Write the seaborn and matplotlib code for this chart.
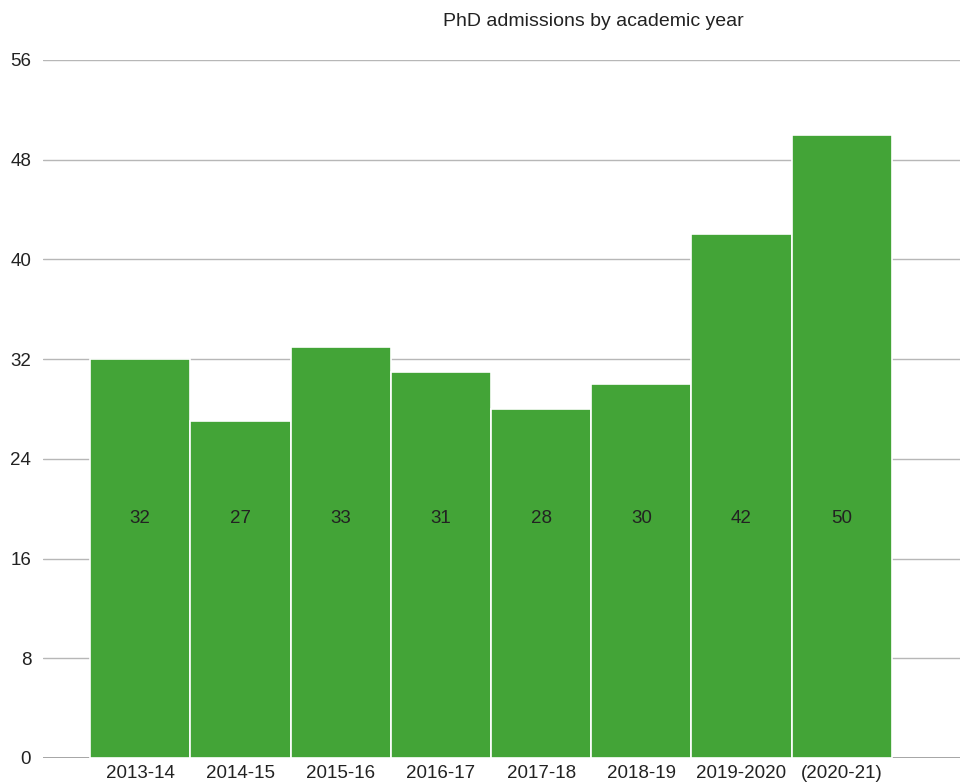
import matplotlib
matplotlib.use("Agg")
import matplotlib.pyplot as plt
import seaborn as sns
import pandas as pd

years = ["2013-14", "2014-15", "2015-16", "2016-17", "2017-18", "2018-19", "2019-2020", "(2020-21)"]
admissions = [32, 27, 33, 31, 28, 30, 42, 50]
y_ticks = [0, 8, 16, 24, 32, 40, 48, 56]

df = pd.DataFrame({"year": years, "admissions": admissions})

sns.set_style("white")
plt.rcParams["font.family"] = ["Liberation Sans", "DejaVu Sans"]

fig = plt.figure(figsize=(9.6, 7.82), dpi=100)
ax = fig.add_axes([0.0448, 0.0307, 0.9552, 0.8926])

sns.barplot(data=df, x="year", y="admissions", color="#43a437", saturation=1,
            width=1.0, edgecolor="white", linewidth=1.2, ax=ax, zorder=2)

# rótulos dentro das barras
for i, v in enumerate(admissions):
    ax.text(i, 19.2, str(v), ha="center", va="center", fontsize=13.5, color="#222222", zorder=3)

ax.set_ylim(0, 56)
ax.set_xlim(-0.97, 8.18)
ax.set_yticks(y_ticks)
ax.yaxis.grid(True, color="#b7b7b7", linewidth=1, zorder=0)
ax.set_axisbelow(True)
for s in ax.spines.values():
    s.set_visible(False)
ax.axhline(0, color="#999999", linewidth=1.2, zorder=1)
ax.tick_params(axis="both", length=0, labelsize=13.5, colors="#222222")
ax.tick_params(axis="y", pad=8.5)
ax.tick_params(axis="x", pad=5)
ax.set_xlabel("")
ax.set_ylabel("")

fig.text(0.618, 0.972, "PhD admissions by academic year", ha="center", va="center",
         fontsize=14, color="#222222")

fig.savefig("out.png", dpi=100)
